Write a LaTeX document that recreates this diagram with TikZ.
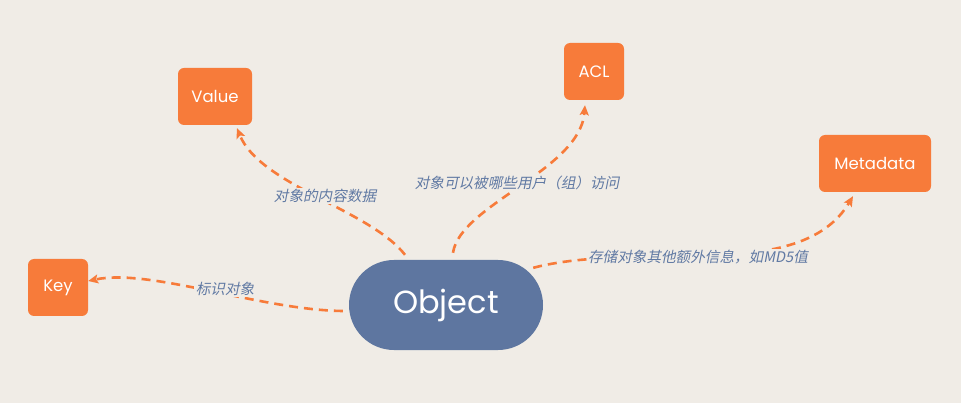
\documentclass[tikz,border=0pt]{standalone}
\usepackage{fontspec}
\setmainfont{Poppins}
\newfontfamily\cjk[FakeSlant=0.2]{Noto Sans CJK SC}
\usetikzlibrary{arrows.meta}
\definecolor{bgc}{HTML}{F0ECE6}
\definecolor{orn}{HTML}{F77B3A}
\definecolor{blu}{HTML}{5E76A0}
\definecolor{lbl}{HTML}{6079A3}
\tikzset{
  leaf/.style={fill=orn, rounded corners=6pt, text=white, minimum height=57pt, inner sep=0pt, font=\fontsize{16.5}{18}\selectfont},
  root/.style={fill=blu, rounded corners=45pt, text=white, minimum width=194pt, minimum height=90pt, inner sep=0pt, font=\fontsize{32}{36}\selectfont},
  conn/.style={draw=orn, line width=2.6pt, dash pattern=on 9pt off 6pt, -{Stealth[length=10pt,width=9pt,inset=2pt]}},
  lab/.style={fill=bgc, text=lbl, inner sep=1.5pt, font=\cjk\fontsize{14.6}{16}\selectfont}
}
\begin{document}
\begin{tikzpicture}[x=1pt,y=-1pt]
\fill[bgc] (0,0) rectangle (961,403);
\useasboundingbox (0,0) rectangle (961,403);
\node[root] (obj) at (446,305) {Object};
\node[leaf, minimum width=60pt] (key) at (58,287.5) {Key};
\node[leaf, minimum width=74pt] (val) at (215,96.5) {Value};
\node[leaf, minimum width=60pt] (acl) at (594,71.5) {ACL};
\node[leaf, minimum width=112pt] (meta) at (875,163.5) {Metadata};

\draw[conn] ([shift={(-6,6)}]obj.west) .. controls (260,310) and (150,268) .. ([shift={(0,-6.5)}]key.east);
\draw[conn] ([shift={(-41,-5)}]obj.north) .. controls (370,210) and (260,185) .. ([shift={(22,3)}]val.south);
\draw[conn] ([shift={(7,-7)}]obj.north) .. controls (460,205) and (580,170) .. ([shift={(-9,5)}]acl.south);
\draw[conn] ([shift={(-10,8)}]obj.north east) .. controls (640,240) and (800,285) .. ([shift={(-22,4)}]meta.south);

\node[lab] (l1) at (225,289) {标识对象};
\node[lab] (l2) at (325,196) {对象的内容数据};
\node[lab] (l3) at (517,183) {对象可以被哪些用户（组）访问};
\node[lab] (l4) at (698,257) {存储对象其他额外信息，如MD5值};
\end{tikzpicture}
\end{document}
